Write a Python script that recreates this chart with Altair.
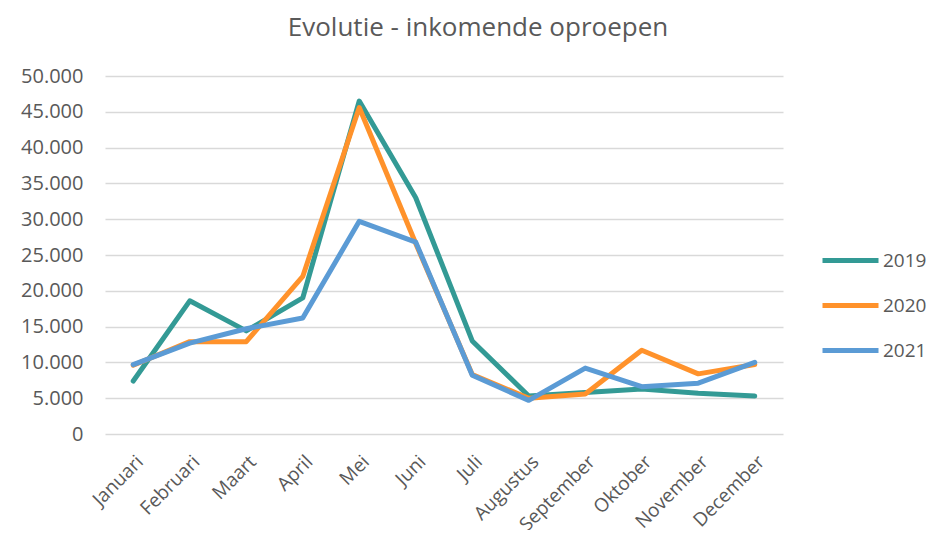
import altair as alt
import pandas as pd

months = ["Januari", "Februari", "Maart", "April", "Mei", "Juni", "Juli",
          "Augustus", "September", "Oktober", "November", "December"]
years = ["2019", "2020", "2021"]
v2019 = [7400, 18600, 14400, 19000, 46500, 33000, 13000, 5300, 5800, 6300, 5700, 5300]
v2020 = [9600, 12900, 12900, 22000, 45600, 26600, 8300, 5000, 5600, 11700, 8400, 9700]
v2021 = [9700, 12700, 14700, 16200, 29700, 26800, 8200, 4700, 9200, 6600, 7100, 10000]
colors = ["#339A95", "#FF922B", "#5B9BD5"]

rows = []
for yr, vals in zip(years, [v2019, v2020, v2021]):
    for m, v in zip(months, vals):
        rows.append({"maand": m, "jaar": yr, "oproepen": v})
df = pd.DataFrame(rows)

FONT = "Open Sans"
GREY = "#595959"

chart = alt.Chart(df).mark_line(strokeWidth=5, strokeCap="round", strokeJoin="round").encode(
    x=alt.X("maand:N", sort=months, scale=alt.Scale(type="point", padding=0.5),
            axis=alt.Axis(title=None, labelAngle=-45, labelAlign="right", labelBaseline="top",
                          labelPadding=18, ticks=False, domain=False, grid=False,
                          labelFont=FONT, labelFontSize=19, labelColor=GREY)),
    y=alt.Y("oproepen:Q", scale=alt.Scale(domain=[0, 50000], nice=False),
            axis=alt.Axis(title=None, values=list(range(0, 50001, 5000)),
                          labelExpr="replace(format(datum.value, ','), ',', '.')",
                          ticks=False, domain=False, gridColor="#D9D9D9", gridWidth=1.5,
                          labelPadding=22, labelFont=FONT, labelFontSize=20, labelColor=GREY)),
    color=alt.Color("jaar:N", sort=years, scale=alt.Scale(domain=years, range=colors),
                    legend=alt.Legend(title=None, orient="none", legendX=715, legendY=154,
                                      symbolType="stroke", symbolSize=3136, symbolStrokeWidth=5,
                                      labelFont=FONT, labelFontSize=19, labelColor=GREY,
                                      rowPadding=4, labelOffset=2)),
).properties(
    width=678, height=358,
    title=alt.TitleParams("Evolutie - inkomende oproepen", font=FONT, fontSize=26,
                          fontWeight="normal", color=GREY, dx=34, offset=25),
    autosize=alt.AutoSizeParams(type="none"),
    padding={"left": 97, "top": 68, "right": 144, "bottom": 96},
).configure_view(stroke=None)

chart.save("out.html", embed_options={"renderer": "svg", "actions": False})
